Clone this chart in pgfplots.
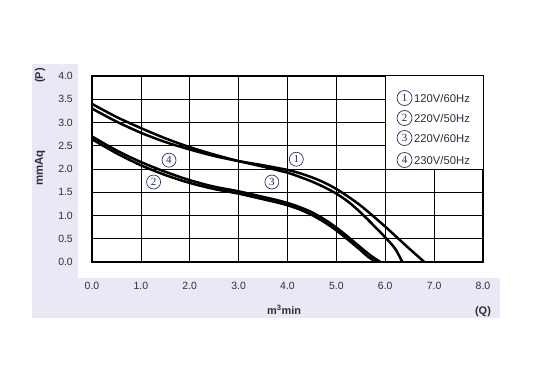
\documentclass[border=0pt]{standalone}
\usepackage{fontspec}
\setmainfont{Liberation Sans}
\newfontfamily\serifdig{Liberation Serif}
\usepackage{pgfplots}
\pgfplotsset{compat=1.18}
\definecolor{lav}{RGB}{233,233,245}
\definecolor{txt}{RGB}{45,45,60}
\definecolor{circ}{RGB}{40,50,110}
\tikzset{num/.style={circle,draw=circ,line width=0.7pt,inner sep=0pt,minimum size=14bp,fill=white,font=\serifdig\fontsize{11}{12}\selectfont,text=txt}}
\begin{document}
\begin{tikzpicture}[x=1bp,y=1bp]
\useasboundingbox (0,0) rectangle (537,373);
\fill[lav] (32,309) rectangle (78,55);
\fill[lav] (32,95) rectangle (500,55);
\begin{axis}[
  at={(92bp,111bp)}, anchor=origin,
  scale only axis, width=391bp, height=186bp,
  xmin=0, xmax=8, ymin=0, ymax=4,
  xtick={0,1,...,8}, ytick={0,0.5,...,4},
  xticklabels={0.0,1.0,2.0,3.0,4.0,5.0,6.0,7.0,8.0},
  yticklabels={0.0,0.5,1.0,1.5,2.0,2.5,3.0,3.5,4.0},
  grid=major,
  major grid style={black, line width=0.7pt},
  axis line style={black, line width=1.5pt},
  tick style={draw=none},
  ticklabel style={font=\fontsize{10.5}{12}\selectfont, text=txt, inner sep=0pt},
  xticklabel style={anchor=center, yshift=-24bp},
  yticklabel style={anchor=east, xshift=-19bp},
  clip=true,
]
\addplot[black, line width=2.5pt, smooth] coordinates {
(0,3.30)(0.5,3.02)(1,2.78)(1.5,2.58)(2,2.42)(2.5,2.28)(3,2.17)(3.5,2.08)(4,1.98)(4.25,1.91)(4.5,1.82)(4.75,1.71)(5,1.57)(5.25,1.40)(5.5,1.21)(5.75,0.99)(6,0.76)(6.25,0.52)(6.5,0.28)(6.8,0)};
\addplot[black, line width=2.5pt, smooth] coordinates {
(0,3.40)(0.5,3.12)(1,2.88)(1.5,2.66)(2,2.47)(2.5,2.31)(3,2.17)(3.5,2.05)(4,1.92)(4.25,1.83)(4.5,1.73)(4.75,1.61)(5,1.47)(5.25,1.29)(5.5,1.06)(5.75,0.80)(6,0.53)(6.2,0.29)(6.35,0)};
\addplot[black, line width=2.5pt, smooth] coordinates {
(0,2.70)(0.5,2.40)(1,2.15)(1.5,1.94)(2,1.76)(2.5,1.62)(3,1.52)(3.5,1.40)(3.75,1.34)(4,1.27)(4.25,1.18)(4.5,1.07)(4.75,0.92)(5,0.74)(5.25,0.53)(5.5,0.31)(5.7,0.14)(5.9,0)};
\addplot[black, line width=2.5pt, smooth] coordinates {
(0,2.64)(0.5,2.34)(1,2.08)(1.5,1.87)(2,1.70)(2.5,1.57)(3,1.47)(3.5,1.35)(3.75,1.29)(4,1.22)(4.25,1.13)(4.5,1.01)(4.75,0.86)(5,0.68)(5.25,0.47)(5.5,0.25)(5.65,0.11)(5.82,0)};
\fill[white] (axis cs:6,2) rectangle (axis cs:8,4);
\draw[black, line width=0.7pt] (axis cs:6,2) -- (axis cs:6,4);
\draw[black, line width=0.7pt] (axis cs:6,2) -- (axis cs:8,2);
\node[num] at (axis cs:4.18,2.21) {1};
\node[num] at (axis cs:1.26,1.72) {2};
\node[num] at (axis cs:3.68,1.72) {3};
\node[num] at (axis cs:1.575,2.19) {4};
\end{axis}
\begin{scope}[every node/.style={font=\fontsize{11.3}{12}\selectfont, text=txt, anchor=west, inner sep=0pt}]
\node[num, anchor=center, minimum size=15bp] at (404.5,275) {1};
\node at (414,275) {120V/60Hz};
\node[num, anchor=center, minimum size=15bp] at (404.5,255) {2};
\node at (414,255) {220V/50Hz};
\node[num, anchor=center, minimum size=15bp] at (404.5,235) {3};
\node at (414,235) {220V/60Hz};
\node[num, anchor=center, minimum size=15bp] at (404.5,213) {4};
\node at (414,213) {230V/50Hz};
\end{scope}
\node[font=\bfseries\fontsize{11.5}{12}\selectfont, text=txt, rotate=90] at (40,205) {mmAq};
\node[font=\bfseries\fontsize{11}{12}\selectfont, text=txt, rotate=90] at (40,297.5) {(P)};
\node[font=\bfseries\fontsize{11}{12}\selectfont, text=txt] at (284,63) {m\textsuperscript{3}min};
\node[font=\bfseries\fontsize{11}{12}\selectfont, text=txt] at (483,61) {(Q)};
\end{tikzpicture}
\end{document}
